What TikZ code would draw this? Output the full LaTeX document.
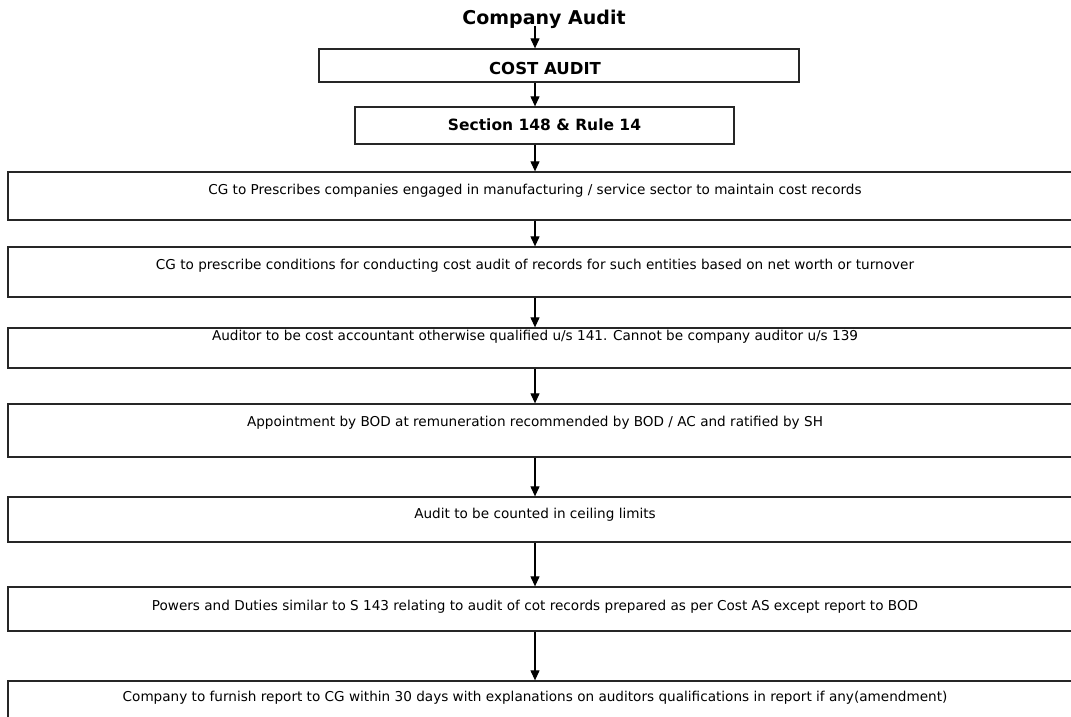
\documentclass[tikz,border=0pt]{standalone}
\usepackage{fontspec}
\setmainfont{DejaVu Sans}
\usetikzlibrary{arrows.meta}
\begin{document}
\begin{tikzpicture}[x=1pt,y=-1pt,
  box/.style={draw=black!85, line width=1.3pt, inner sep=0pt},
  txt/.style={inner sep=0pt, font=\fontsize{13.6}{15}\selectfont},
  flow/.style={line width=1.1pt, -{Triangle[width=9pt,length=10pt]}}]
\useasboundingbox (0,0) rectangle (1071,717);
\clip (0,0) rectangle (1071,717);

% heading and the spine of the flow
\node[inner sep=0pt, anchor=base, font=\bfseries\fontsize{19}{21}\selectfont] (title) at (544,25) {Company Audit};
\coordinate (spine) at (535,26);

% upper narrow boxes
\draw[box] (319,49) rectangle (799,82) node[pos=0.5, inner sep=0pt, minimum width=480pt, minimum height=33pt] (b1) {};
\node[inner sep=0pt, font=\bfseries\fontsize{16.5}{18}\selectfont] (t1) at (545,68) {COST AUDIT};

\draw[box] (355,107) rectangle (734,144) node[pos=0.5, inner sep=0pt, minimum width=379pt, minimum height=37pt] (b2) {};
\node[inner sep=0pt, font=\bfseries\fontsize{15.5}{17}\selectfont] (t2) at (544.5,125) {Section 148 \& Rule 14};

% full-width boxes
\foreach \name/\top/\bot in {b3/172/220, b4/247/297, b5/328/368, b6/404/457, b7/497/542, b8/587/631, b9/681/740}{
  \draw[box] (8,\top) rectangle (1090,\bot)
    node[pos=0.5, inner sep=0pt, minimum width=1082pt, minimum height={\bot-\top}] (\name) {};
}

\node[txt] (t3) at (535,191) {CG to Prescribes companies engaged in manufacturing / service sector to maintain cost records};
\node[txt] (t4) at (535,266) {CG to prescribe conditions for conducting cost audit of records for such entities based on net worth or turnover};
\node[txt] (t5) at (535,337) {Auditor to be cost accountant otherwise qualified u/s 141. Cannot be company auditor u/s 139};
\node[txt] (t6) at (535,423) {Appointment by BOD at remuneration recommended by BOD / AC and ratified by SH};
\node[txt] (t7) at (535,515) {Audit to be counted in ceiling limits};
\node[txt] (t8) at (535,607) {Powers and Duties similar to S 143 relating to audit of cot records prepared as per Cost AS except report to BOD};
\node[txt] (t9) at (535,698) {Company to furnish report to CG within 30 days with explanations on auditors qualifications in report if any(amendment)};

% connectors
\draw[flow] (spine) -- (spine |- b1.north);
\foreach \a/\b in {b1/b2, b2/b3, b3/b4, b4/b5, b5/b6, b6/b7, b7/b8, b8/b9}{
  \draw[flow] (\a.south -| spine) -- (\b.north -| spine);
}
\end{tikzpicture}
\end{document}
